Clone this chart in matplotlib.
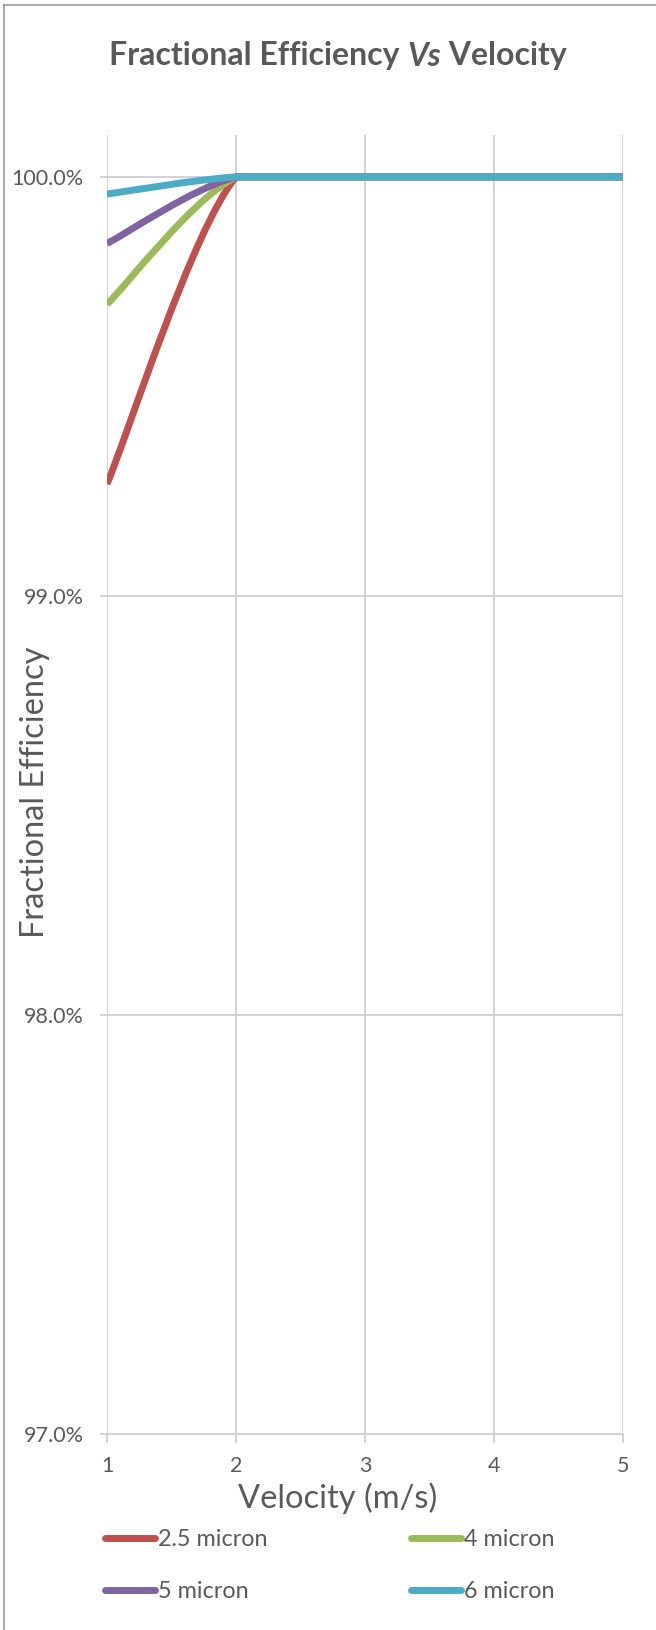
import matplotlib
matplotlib.use("Agg")
import matplotlib.pyplot as plt
from matplotlib.path import Path
from matplotlib.patches import PathPatch
from matplotlib.lines import Line2D
import numpy as np

# velocity (m/s) and fractional efficiency (%)
velocity = [1, 2, 3, 4, 5]
eff_2_5 = [99.267, 100, 100, 100, 100]
eff_4 = [99.696, 100, 100, 100, 100]
eff_5 = [99.841, 100, 100, 100, 100]
eff_6 = [99.959, 100, 100, 100, 100]

labels = ["2.5 micron", "4 micron", "5 micron", "6 micron"]
colors = ["#C0504D", "#9BBB59", "#8064A2", "#4BACC6"]
x_ticks = [1, 2, 3, 4, 5]
y_ticks = [97, 98, 99, 100]

TXT = "#595959"
GRID = "#D0D0D0"
W, H = 656, 1630

plt.rcParams['font.family'] = ['Lato', 'DejaVu Sans']


def smooth_path(x, y):
    # excel-like smoothed line (catmull-rom beziers), control points kept
    # inside each segment's y range so flat parts stay flat
    pts = np.column_stack([x, y]).astype(float)
    n = len(pts)
    verts = [tuple(pts[0])]
    codes = [Path.MOVETO]
    for i in range(n - 1):
        p0 = pts[max(i - 1, 0)]
        p1 = pts[i]
        p2 = pts[i + 1]
        p3 = pts[min(i + 2, n - 1)]
        c1 = p1 + (p2 - p0) / 6.0
        c2 = p2 - (p3 - p1) / 6.0
        lo, hi = min(p1[1], p2[1]), max(p1[1], p2[1])
        c1[1] = np.clip(c1[1], lo, hi)
        c2[1] = np.clip(c2[1], lo, hi)
        verts += [tuple(c1), tuple(c2), tuple(p2)]
        codes += [Path.CURVE4] * 3
    return Path(verts, codes)


fig = plt.figure(figsize=(W / 100, H / 100), dpi=100)
ax = fig.add_axes([107 / W, 1 - 1434 / H, (623 - 107) / W, (1434 - 135) / H])

series = [eff_2_5, eff_4, eff_5, eff_6]
for vals, c in zip(series, colors):
    patch = PathPatch(smooth_path(velocity, vals), fill=False, edgecolor=c,
                      lw=5, capstyle='butt', joinstyle='round', zorder=3)
    ax.add_patch(patch)

ax.set_xlim(1, 5)
ax.set_ylim(97, 100.1)
ax.set_xticks(x_ticks)
ax.set_yticks(y_ticks)
ax.set_yticklabels([f"{v:.1f}%" for v in y_ticks])
ax.grid(True, color=GRID, lw=1.3)
ax.set_axisbelow(True)
for s in ['top', 'right', 'left']:
    ax.spines[s].set_visible(False)
ax.spines['bottom'].set_color(GRID)
ax.spines['bottom'].set_linewidth(1.3)
ax.tick_params(axis='x', direction='out', length=6.5, width=1.3, color=GRID,
               labelsize=15.5, labelcolor=TXT, pad=9)
ax.tick_params(axis='y', direction='out', length=5, width=1.3, color=GRID,
               labelsize=15.5, labelcolor=TXT, pad=12)

# axis titles
fig.text(338 / W, 1 - 1498 / H, "Velocity (m/s)", ha='center', va='center',
         fontsize=23.5, color=TXT)
fig.text(35 / W, 1 - 792 / H, "Fractional Efficiency", ha='center', va='center',
         rotation=90, fontsize=23.5, color=TXT)

# title with italic "Vs"
parts = [("Fractional Efficiency ", 'normal'), ("Vs", 'italic'), (" Velocity", 'normal')]
renderer = fig.canvas.get_renderer()
texts = []
total = 0
for s, st in parts:
    t = fig.text(0, 1 - 56 / H, s, fontsize=23, fontweight='bold', style=st,
                 color=TXT, va='center', ha='left')
    w = t.get_window_extent(renderer).width
    texts.append((t, w))
    total += w
x0 = 338 - total / 2
for t, w in texts:
    t.set_x(x0 / W)
    x0 += w

# legend, row-major order like the original
order = [0, 2, 1, 3]
handles = [Line2D([], [], color=colors[i], lw=5, solid_capstyle='round') for i in order]
fig.legend(handles, [labels[i] for i in order], ncol=2, loc='upper left',
           bbox_to_anchor=(84 / W, 1 - 1508 / H), frameon=False,
           fontsize=16.8, labelcolor=TXT, handlelength=2.15, handletextpad=0.13,
           columnspacing=6.15, labelspacing=1.32)

# chart border
fig.add_artist(Line2D([4 / W, 4 / W], [0, 1 - 5 / H], color='#9A9A9A', lw=1.2))
fig.add_artist(Line2D([4 / W, 1], [1 - 5 / H, 1 - 5 / H], color='#9A9A9A', lw=1.2))

fig.savefig("out.png", dpi=100, facecolor='white')
